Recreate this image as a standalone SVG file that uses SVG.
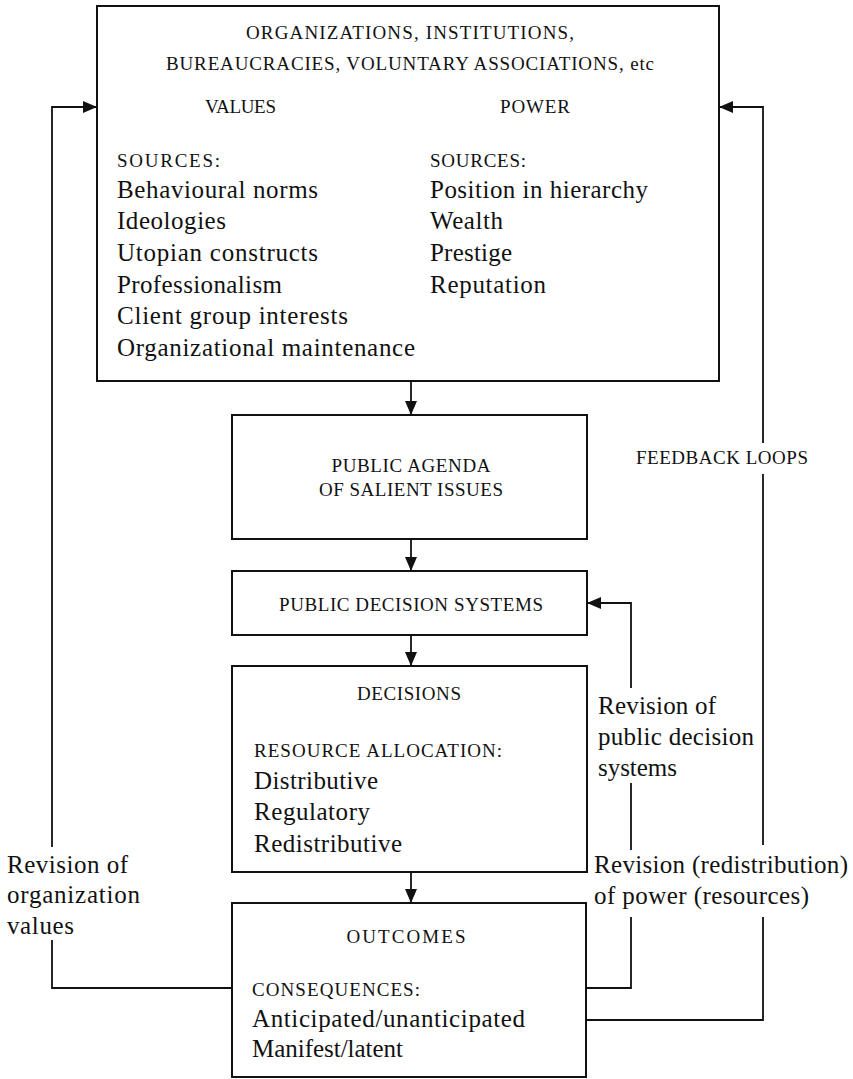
<svg xmlns="http://www.w3.org/2000/svg" width="853" height="1079" viewBox="0 0 853 1079">
<style>
.box{fill:#fff;stroke:#111;stroke-width:2}
.con{fill:none;stroke:#111;stroke-width:1.8}
text{font-family:"Liberation Serif","Times New Roman",serif;fill:#111}
.cap{font-size:19px}
.big{font-size:25px}
.mid{text-anchor:middle}
</style>
<defs>
<marker id="ah" viewBox="0 0 14 12" refX="14" refY="6" markerWidth="14" markerHeight="12" markerUnits="userSpaceOnUse" orient="auto">
<path d="M0,0 L14,6 L0,12 z" fill="#111"/>
</marker>
</defs>
<rect width="853" height="1079" fill="#fff"/>

<g id="organizations">
<rect class="box" x="97" y="6" width="622" height="375"/>
<text class="cap mid" x="410" y="39" textLength="328">ORGANIZATIONS, INSTITUTIONS,</text>
<text class="cap mid" x="410" y="70" textLength="488">BUREAUCRACIES, VOLUNTARY ASSOCIATIONS, etc</text>
<text class="cap" x="205" y="113" textLength="71">VALUES</text>
<text class="cap" x="500" y="113" textLength="70">POWER</text>
<text class="cap" x="117" y="167" textLength="103">SOURCES:</text>
<text class="big" x="117" y="198" textLength="201">Behavioural norms</text>
<text class="big" x="117" y="229" textLength="109">Ideologies</text>
<text class="big" x="117" y="261" textLength="201">Utopian constructs</text>
<text class="big" x="117" y="293" textLength="165">Professionalism</text>
<text class="big" x="117" y="324" textLength="231">Client group interests</text>
<text class="big" x="117" y="356" textLength="298">Organizational maintenance</text>
<text class="cap" x="430" y="167" textLength="96">SOURCES:</text>
<text class="big" x="430" y="198" textLength="218">Position in hierarchy</text>
<text class="big" x="430" y="229" textLength="73">Wealth</text>
<text class="big" x="430" y="261" textLength="82">Prestige</text>
<text class="big" x="430" y="293" textLength="116">Reputation</text>
</g>

<g id="public-agenda">
<rect class="box" x="232" y="415" width="355" height="124"/>
<text class="cap mid" x="411" y="472" textLength="159">PUBLIC AGENDA</text>
<text class="cap mid" x="411" y="496" textLength="184">OF SALIENT ISSUES</text>
</g>

<g id="public-decision-systems">
<rect class="box" x="232" y="571" width="355" height="64"/>
<text class="cap mid" x="411" y="611" textLength="264">PUBLIC DECISION SYSTEMS</text>
</g>

<g id="decisions">
<rect class="box" x="232" y="666" width="355" height="206"/>
<text class="cap mid" x="409" y="700" textLength="104">DECISIONS</text>
<text class="cap" x="254" y="757" textLength="248">RESOURCE ALLOCATION:</text>
<text class="big" x="254" y="789" textLength="124">Distributive</text>
<text class="big" x="254" y="820" textLength="116">Regulatory</text>
<text class="big" x="254" y="852" textLength="148">Redistributive</text>
</g>

<g id="outcomes">
<rect class="box" x="232" y="903" width="354" height="174"/>
<text class="cap mid" x="406" y="943" textLength="119">OUTCOMES</text>
<text class="cap" x="252" y="996" textLength="168">CONSEQUENCES:</text>
<text class="big" x="252" y="1027" textLength="273">Anticipated/unanticipated</text>
<text class="big" x="252" y="1057" textLength="151">Manifest/latent</text>
</g>

<g id="connectors">
<line class="con" x1="411" y1="381" x2="411" y2="415" marker-end="url(#ah)"/>
<line class="con" x1="411" y1="539" x2="411" y2="571" marker-end="url(#ah)"/>
<line class="con" x1="411" y1="635" x2="411" y2="666" marker-end="url(#ah)"/>
<line class="con" x1="411" y1="872" x2="411" y2="903" marker-end="url(#ah)"/>
<path class="con" d="M232,988 H52 V940"/>
<path class="con" d="M52,847 V107 H97" marker-end="url(#ah)"/>
<path class="con" d="M586,1020 H763 V917"/>
<path class="con" d="M763,845 V474"/>
<path class="con" d="M763,443 V107 H719" marker-end="url(#ah)"/>
<path class="con" d="M586,988 H631 V917"/>
<path class="con" d="M631,850 V783"/>
<path class="con" d="M631,688 V603 H587" marker-end="url(#ah)"/>
</g>

<g id="labels">
<text class="cap" x="636" y="464" textLength="172">FEEDBACK LOOPS</text>
<text class="big" x="598" y="714" textLength="118">Revision of</text>
<text class="big" x="598" y="745" textLength="156">public decision</text>
<text class="big" x="598" y="776" textLength="79">systems</text>
<text class="big" x="594" y="873" textLength="254">Revision (redistribution)</text>
<text class="big" x="594" y="904" textLength="215">of power (resources)</text>
<text class="big" x="7" y="873" textLength="121">Revision of</text>
<text class="big" x="7" y="903" textLength="133">organization</text>
<text class="big" x="7" y="934" textLength="67">values</text>
</g>
</svg>
